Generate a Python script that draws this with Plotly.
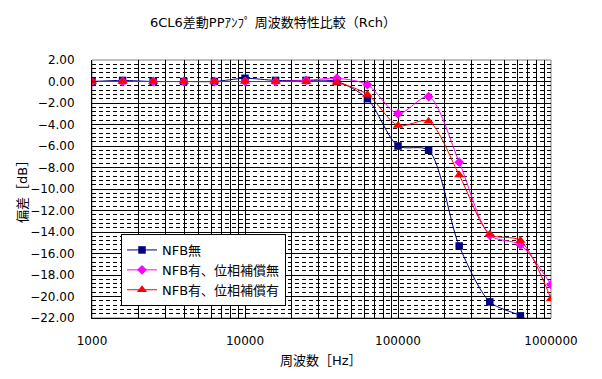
import plotly.graph_objects as go

freq = [1000, 1585, 2512, 3981, 6310, 10000, 15849, 25119, 39811, 63096,
        100000, 158489, 251189, 398107, 630957, 1000000]
nfb_none = [0.0, 0.1, 0.0, 0.0, 0.0, 0.3, 0.1, 0.1, 0.0, -1.6,
            -6.0, -6.4, -15.3, -20.5, -21.8, -23.6]
nfb_nocomp = [0.0, 0.0, 0.0, 0.0, 0.0, 0.0, 0.0, 0.1, 0.3, -0.3,
              -3.0, -1.4, -7.5, -14.3, -15.2, -18.9]
nfb_comp = [0.0, 0.0, 0.0, 0.0, 0.0, 0.0, 0.0, 0.0, -0.1, -1.2,
            -4.1, -3.7, -8.7, -14.2, -14.8, -20.2]

names = ["NFB無", "NFB有、位相補償無", "NFB有、位相補償有"]
colors = ["#000080", "#FF00FF", "#FF0000"]
symbols = ["square", "diamond", "triangle-up"]

x_tickvals = [m * 10 ** e for e in range(3, 6) for m in range(1, 10)] + [1000000]
x_ticktext = [str(v) if str(v).strip("0") == "1" else "" for v in x_tickvals]

title_text = "6CL6差動PPｱﾝﾌﾟ 周波数特性比較（Rch）"
x_title = "周波数［Hz］"
y_title = "偏差［dB］"

FONT = "DejaVu Sans, Noto Sans CJK JP, sans-serif"
OFF = 8  # default page body margin
PW, PH = 602, 379
W, H = PW - OFF, PH - OFF
# plot area in page coordinates: x 92..551, y 60..318
L, T = 92 - OFF, 60 - OFF
R, B = PW - 551, PH - 318
PLW, PLH = W - L - R, H - T - B


def px(xp):
    return (xp - 92) / PLW


def py(yp):
    return (318 - yp) / PLH


fig = go.Figure()
for ys, nm, c, s in zip([nfb_none, nfb_nocomp, nfb_comp], names, colors, symbols):
    fig.add_trace(go.Scatter(
        x=freq, y=ys, name=nm, mode="lines+markers",
        line=dict(color=c, width=1, shape="spline", smoothing=0.8),
        marker=dict(color=c, symbol=s, size=9 if s == "triangle-up" else 7.5,
                    line=dict(width=0)),
    ))

fig.add_shape(type="rect", xref="paper", yref="paper", x0=0, x1=1, y0=0, y1=1,
              line=dict(color="#808080", width=1), layer="below")

fig.add_annotation(text=x_title, xref="paper", yref="paper",
                   x=px(321), y=py(360),
                   xanchor="center", yanchor="middle", showarrow=False,
                   font=dict(size=13, family=FONT))
fig.add_annotation(text=y_title, xref="paper", yref="paper",
                   x=px(22), y=0.5, textangle=-90,
                   xanchor="center", yanchor="middle", showarrow=False,
                   font=dict(size=13, family=FONT))

fig.update_layout(
    width=W, height=H,
    margin=dict(l=L, r=R, t=T, b=B, autoexpand=False),
    paper_bgcolor="white", plot_bgcolor="white",
    font=dict(family=FONT, size=12, color="black"),
    title=dict(text=title_text, x=(273 - OFF) / W, xanchor="center",
               y=1 - (22 - OFF) / H, yanchor="middle",
               font=dict(size=13, family=FONT)),
    showlegend=True,
    legend=dict(x=px(121), y=py(234),
                xanchor="left", yanchor="top",
                bgcolor="white", bordercolor="black", borderwidth=1,
                font=dict(size=13, family=FONT), tracegroupgap=0,
                itemwidth=30),
)

fig.update_xaxes(
    type="log", range=[3, 6], automargin=False,
    tickmode="array", tickvals=x_tickvals, ticktext=x_ticktext,
    showgrid=True, gridcolor="black", gridwidth=1,
    showline=True, linecolor="black", linewidth=1,
    ticks="", ticklabelstandoff=12,
    zeroline=False,
)
fig.update_yaxes(
    range=[-22, 2], dtick=2, tick0=0, tickformat=".2f", automargin=False,
    showgrid=True, gridcolor="black", gridwidth=1,
    minor=dict(dtick=0.4, tick0=0, showgrid=True, gridcolor="black",
               griddash="4px,3px", gridwidth=1, ticks="inside", ticklen=4,
               tickcolor="black"),
    showline=True, linecolor="black", linewidth=1,
    ticks="inside", ticklen=6, tickcolor="black", ticklabelstandoff=14,
    zeroline=False,
)

fig.write_html("out.html")
